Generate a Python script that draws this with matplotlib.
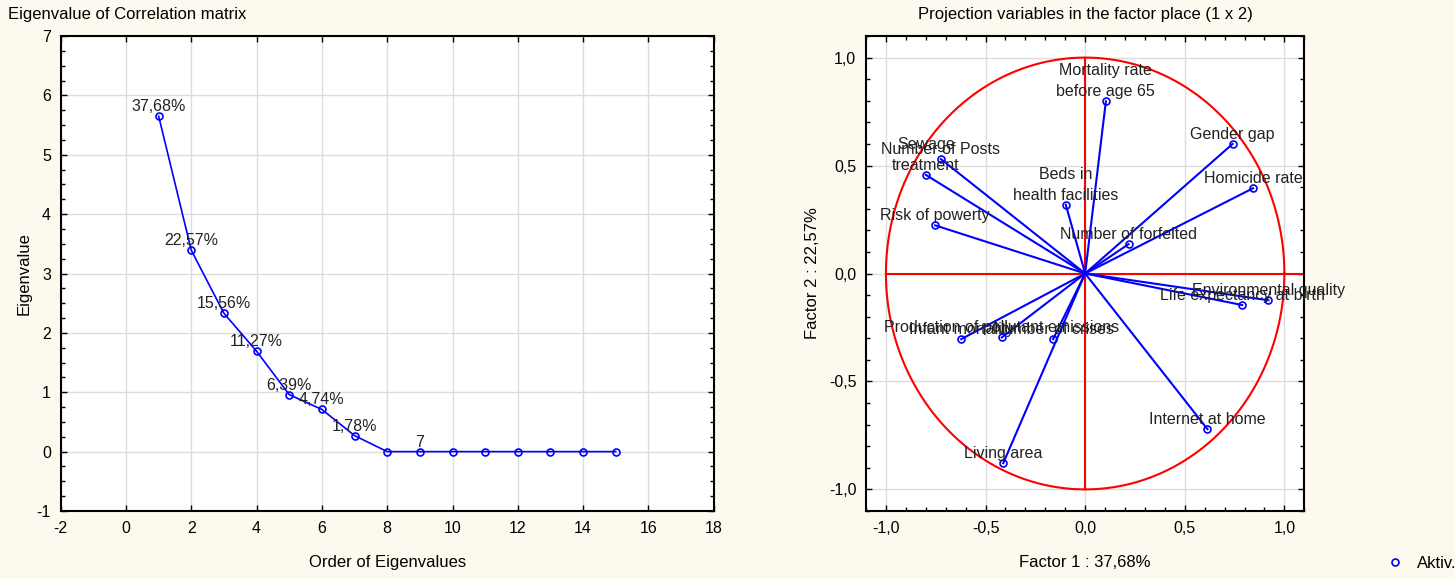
import matplotlib
matplotlib.use('Agg')
import matplotlib.pyplot as plt
from matplotlib.ticker import MultipleLocator, FuncFormatter
import numpy as np

plt.rcParams['font.family'] = ['Liberation Sans', 'DejaVu Sans']
plt.rcParams['axes.unicode_minus'] = False

# ---- data: scree plot ----
eig_order = [1, 2, 3, 4, 5, 6, 7, 8, 9, 10, 11, 12, 13, 14, 15]
eig_values = [5.65, 3.39, 2.33, 1.69, 0.96, 0.71, 0.27, 0, 0, 0, 0, 0, 0, 0, 0]
eig_labels = ['37,68%', '22,57%', '15,56%', '11,27%', '6,39%', '4,74%', '1,78%',
              '', '7', '', '', '', '', '', '']

# ---- data: factor loadings ----
var_names = ['Mortality rate\nbefore age 65', 'Gender gap', 'Homicide rate',
             'Number of Posts', 'Sewage\ntreatment', 'Beds in\nhealth facilities',
             'Risk of powerty', 'Number of forfeited', 'Environmental quality',
             'Life expectancy at birth', 'Infant mortality',
             'Production of pollutant emissions', 'Number of crises',
             'Internet at home', 'Living area']
factor1 = [0.104, 0.74, 0.843, -0.724, -0.80, -0.097, -0.753, 0.218, 0.92,
           0.788, -0.622, -0.418, -0.161, 0.614, -0.411]
factor2 = [0.797, 0.60, 0.395, 0.53, 0.457, 0.318, 0.223, 0.136, -0.124,
           -0.146, -0.304, -0.296, -0.304, -0.721, -0.878]

bg = '#fdf9ee'
W, H = 1455, 579
fig = plt.figure(figsize=(W / 100, H / 100), dpi=100, facecolor=bg)

ax1 = fig.add_axes([60.7 / W, 1 - 511 / H, 653 / W, 475 / H])
ax2 = fig.add_axes([866 / W, 1 - 511 / H, 438.3 / W, 475 / H])


def comma(x, pos):
    return ('%.1f' % x).replace('.', ',').replace('-0,0', '0,0')


for ax in (ax1, ax2):
    ax.set_facecolor('white')
    ax.grid(True, which='major', color='#dcdcdc', lw=1)
    ax.set_axisbelow(True)
    ax.tick_params(which='both', direction='in', top=True, right=True,
                   labelsize=11.5, width=1, colors='black')
    ax.tick_params(which='major', length=4, pad=7)
    ax.tick_params(which='minor', length=3)
    for s in ax.spines.values():
        s.set_linewidth(1.5)

# ---- left: scree plot ----
ax1.plot(eig_order, eig_values, color='blue', lw=1.2, marker='o', ms=5,
         mfc='none', mec='blue', mew=1.2)
for x, y, t in zip(eig_order, eig_values, eig_labels):
    if t:
        ax1.annotate(t, (x, y), xytext=(0, 3.6), textcoords='offset points',
                     ha='center', va='baseline', fontsize=11.5, color='#222222')
ax1.set_xlim(-2, 18)
ax1.set_ylim(-1, 7)
ax1.xaxis.set_major_locator(MultipleLocator(2))
ax1.yaxis.set_major_locator(MultipleLocator(1))
ax1.yaxis.set_minor_locator(MultipleLocator(0.25))
ax1.set_xlabel('Order of Eigenvalues', fontsize=12, labelpad=14)
ax1.set_ylabel('Eigenvalue', fontsize=12, labelpad=4)

# ---- right: projection of variables ----
t = np.linspace(0, 2 * np.pi, 400)
ax2.plot(np.cos(t), np.sin(t), color='red', lw=1.5)
ax2.plot([-1, 1.1], [0, 0], color='red', lw=1.5)
ax2.plot([0, 0], [-1, 1], color='red', lw=1.5)
for x, y, name in zip(factor1, factor2, var_names):
    ax2.plot([0, x], [0, y], color='blue', lw=1.5)
    ax2.annotate(name, (x, y), xytext=(0, 3.6), textcoords='offset points',
                 ha='center', va='baseline', fontsize=11.5, color='#222222',
                 linespacing=1.5)
ax2.plot(factor1, factor2, ls='none', marker='o', ms=5, mfc='none',
         mec='blue', mew=1.2, label='Aktiv.')
ax2.set_xlim(-1.1, 1.1)
ax2.set_ylim(-1.1, 1.1)
for axis in (ax2.xaxis, ax2.yaxis):
    axis.set_major_locator(MultipleLocator(0.5))
    axis.set_minor_locator(MultipleLocator(0.1))
    axis.set_major_formatter(FuncFormatter(comma))
ax2.set_xlabel('Factor 1 : 37,68%', fontsize=12, labelpad=14)
ax2.set_ylabel('Factor 2 : 22,57%', fontsize=12, labelpad=6)

fig.text(8 / W, 1 - 15 / H, 'Eigenvalue of Correlation matrix', fontsize=12,
         ha='left', va='center')
fig.text(1085 / W, 1 - 15 / H, 'Projection variables in the factor place (1 x 2)',
         fontsize=12, ha='center', va='center')

fig.legend(loc='center left', bbox_to_anchor=(1380 / W, 1 - 563 / H),
           frameon=False, fontsize=12, handlelength=1, handletextpad=0.8,
           borderaxespad=0)

fig.savefig('out.png', dpi=100, facecolor=bg)
